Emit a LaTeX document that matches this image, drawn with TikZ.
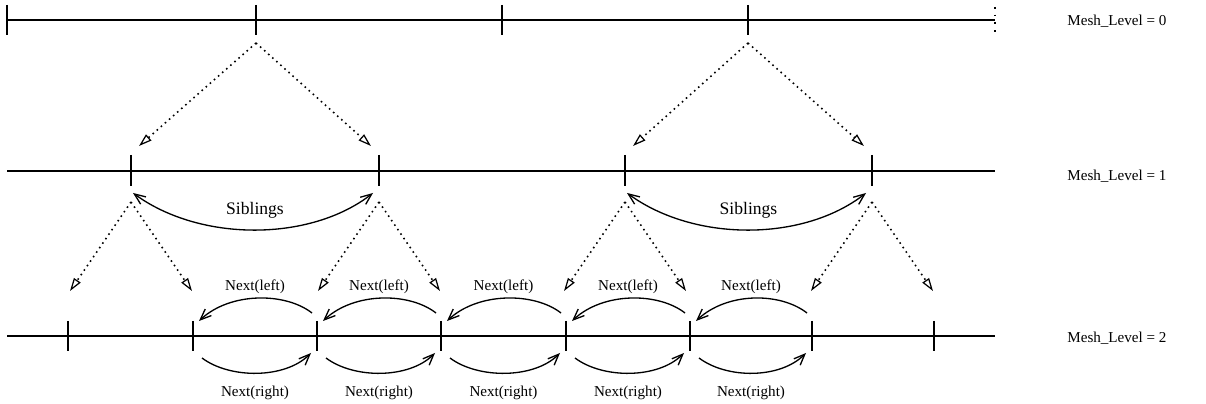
\documentclass[tikz,border=0pt]{standalone}
\usepackage{fontspec}
\setmainfont{Liberation Serif}
\usetikzlibrary{arrows.meta,calc}
\begin{document}
\begin{tikzpicture}[x=0.02cm,y=-0.02cm,
  meshline/.style={line width=1.1pt},
  tickmark/.style={line width=0.9pt},
  dotarrow/.style={line width=0.9pt,dash pattern=on 0.9pt off 2.2pt,
    -{Triangle[open,length=2.6mm,width=1.6mm,line width=0.7pt,sep=0pt]}},
  curvearrow/.style={line width=0.75pt,-{Straight Barb[length=2.2mm,width=1.8mm,line width=0.75pt]}},
  sibarrow/.style={line width=0.75pt,{Straight Barb[length=2.2mm,width=1.8mm,line width=0.75pt]}-{Straight Barb[length=2.2mm,width=1.8mm,line width=0.75pt]}},
  small/.style={font=\fontsize{8.6}{10}\selectfont,inner sep=0pt},
  big/.style={font=\fontsize{10}{12}\selectfont,inner sep=0pt},
  level/.style={font=\fontsize{8.6}{10}\selectfont,inner sep=0pt,anchor=west}]
\useasboundingbox (0,0) rectangle (1206,404);

% level lines
\coordinate (L0s) at (7,20);   \coordinate (L0e) at (995,20);
\coordinate (L1s) at (7,171);  \coordinate (L1e) at (995,171);
\coordinate (L2s) at (7,336);  \coordinate (L2e) at (995,336);
\draw[meshline] (L0s) -- (L0e);
\draw[meshline] (L1s) -- (L1e);
\draw[meshline] (L2s) -- (L2e);

% ticks level 0
\foreach \x/\n in {7/a0,256/a1,502/a2,748/a3}{
  \coordinate (\n) at (\x,20);
  \draw[tickmark] (\x,5) -- (\x,35);
}
\draw[line width=0.9pt,dash pattern=on 0.9pt off 3.5pt] (995,7) -- (995,33);

% ticks level 1
\foreach \x/\n in {131/b1,379/b2,625/b3,872/b4}{
  \coordinate (\n) at (\x,171);
  \draw[tickmark] (\x,155) -- (\x,186);
}

% ticks level 2
\foreach \x/\n in {68/c0,193/c1,317/c2,441/c3,566/c4,690/c5,812/c6,934/c7}{
  \coordinate (\n) at (\x,336);
  \draw[tickmark] (\x,321) -- (\x,351);
}

% dotted arrows level 0 -> level 1
\foreach \p/\l/\r in {a1/b1/b2,a3/b3/b4}{
  \coordinate (\p top) at ($(\p)+(0,23)$);
  \draw[dotarrow] (\p top) -- ($(\l)+(8,-25)$);
  \draw[dotarrow] (\p top) -- ($(\r)+(-8,-25)$);
}

% dotted arrows level 1 -> level 2
\foreach \p in {b1,b2,b3,b4}{
  \coordinate (\p top) at ($(\p)+(0,31)$);
  \draw[dotarrow] (\p top) -- ($(\p)+(-61,120)$);
  \draw[dotarrow] (\p top) -- ($(\p)+(61,120)$);
}

% siblings
\foreach \l/\r in {b1/b2,b3/b4}{
  \draw[sibarrow] ($(\l)+(2,22)$) .. controls ($(\l)+(69,71)$) and ($(\r)+(-69,71)$) .. ($(\r)+(-6,22)$);
  \node[big] at ($(\l)!0.5!(\r)+(0,39)$) {Siblings};
}

% next arrows
\foreach \l/\r in {c1/c2,c2/c3,c3/c4,c4/c5,c5/c6}{
  \draw[curvearrow] ($(\r)+(-5,-23)$) .. controls ($(\r)+(-32,-44)$) and ($(\l)+(37,-44)$) .. ($(\l)+(6,-15)$);
  \node[small] at ($(\l)!0.5!(\r)+(0,-49)$) {Next(left)};
  \draw[curvearrow] ($(\l)+(9,22)$) .. controls ($(\l)+(37,43)$) and ($(\r)+(-32,43)$) .. ($(\r)+(-6,17)$);
  \node[small] at ($(\l)!0.5!(\r)+(0,57)$) {Next(right)};
}

% level labels
\node[level] (m0) at (1067,21) {Mesh\_Level = 0};
\node[level] (m1) at (1067,176) {Mesh\_Level = 1};
\node[level] (m2) at (1067,338) {Mesh\_Level = 2};
\end{tikzpicture}
\end{document}
